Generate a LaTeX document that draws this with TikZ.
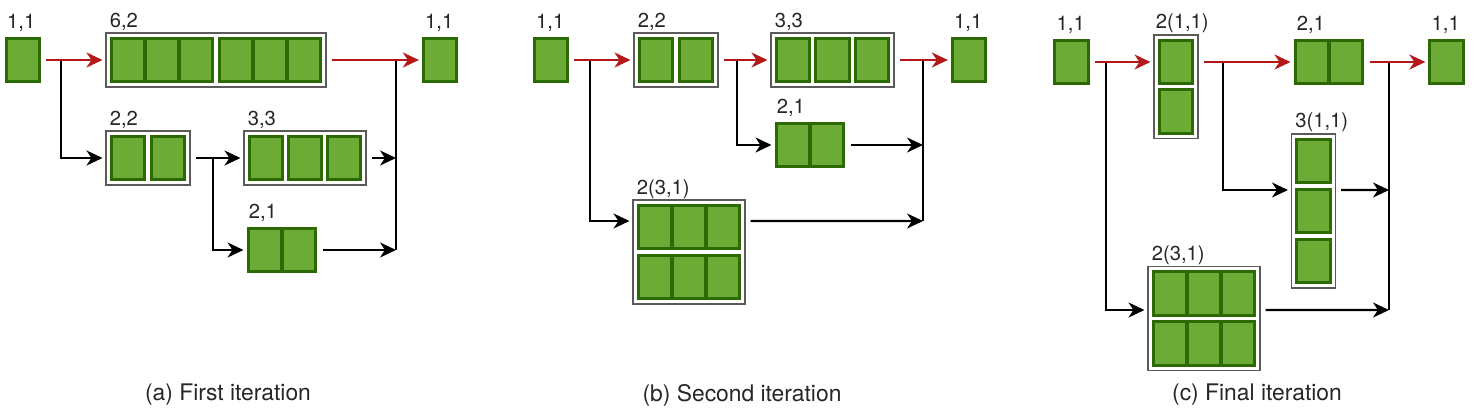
\documentclass[tikz,border=0pt]{standalone}
\usepackage{fontspec}
\setmainfont{TeX Gyre Heros}
\usetikzlibrary{arrows.meta, positioning, fit, calc}
\definecolor{CellGreen}{RGB}{108,172,54}
\definecolor{CellEdge}{RGB}{44,106,4}
\definecolor{FrameGray}{RGB}{90,90,90}
\definecolor{PathRed}{RGB}{180,24,24}

\begin{document}
\begin{tikzpicture}[x=0.02cm, y=-0.02cm,
		cell/.style={draw=CellEdge, line width=0.056cm, fill=CellGreen, minimum width=0.67cm, minimum height=0.87cm, inner sep=0pt},
		grp/.style={draw=FrameGray, line width=0.025cm, inner sep=0.075cm},
		lbl/.style={anchor=base west, inner sep=0pt, font=\fontsize{11.5}{13}\selectfont, text=black!85},
		subcap/.style={font=\fontsize{13}{15}\selectfont, text=black!85},
		wire/.style={line width=0.045cm},
		arr/.style={wire, -{Stealth[length=0.32cm, width=0.3cm, inset=0.1cm]}, shorten >=0.06cm},
		redarr/.style={arr, PathRed},
		src/.style={shorten <=0.1cm},
		tojoin/.style={shorten >=0pt}]
	\useasboundingbox (0,0) rectangle (1474,419);

	% (a) first iteration
	\node[cell] (ain) at (23,60) {};
	\foreach \x [count=\i] in {128,162,196,236,270,304}
		\node[cell] (a62c\i) at (\x,60) {};
	\node[grp, fit=(a62c1)(a62c6)] (a62) {};
	\node[cell] (aout) at (440,60) {};
	\foreach \x [count=\i] in {128,168}
		\node[cell] (a22c\i) at (\x,158) {};
	\node[grp, fit=(a22c1)(a22c2)] (a22) {};
	\foreach \x [count=\i] in {266,305,344}
		\node[cell] (a33c\i) at (\x,158) {};
	\node[grp, fit=(a33c1)(a33c3)] (a33) {};
	\foreach \x [count=\i] in {265,299}
		\node[cell] (a21c\i) at (\x,250) {};
	\node[fit=(a21c1)(a21c2), inner sep=0pt] (a21) {};

	\node[lbl] (ainl) at ([shift={(2,-8)}]ain.north west) {1,1};
	\node[lbl] (a62l) at ([shift={(4,-5)}]a62.north west) {6,2};
	\node[lbl] (aoutl) at ([shift={(3,-8)}]aout.north west) {1,1};
	\node[lbl] (a22l) at ([shift={(4,-5)}]a22.north west) {2,2};
	\node[lbl] (a33l) at ([shift={(4,-5)}]a33.north west) {3,3};
	\node[lbl] (a21l) at ([shift={(2,-8)}]a21.north west) {2,1};

	\coordinate (asplit) at (61,60);
	\coordinate (asplit2) at (213,158);
	\coordinate (ajtop) at (396,60);
	\coordinate (aj1) at (396,158);
	\coordinate (aj2) at (396,250);
	\draw[wire] (ajtop) -- (aj2);
	\draw[arr] (asplit) |- (a22);
	\draw[arr] (asplit2) |- (a21);
	\draw[arr, src] (a22) -- (a33);
	\draw[arr, src, tojoin] (a33) -- (aj1);
	\draw[arr, src, tojoin] (a21) -- (aj2);
	\draw[redarr, src] (ain) -- (a62);
	\draw[redarr, src] (a62) -- (aout);

	% (b) second iteration
	\node[cell] (bin) at (551,60) {};
	\foreach \x [count=\i] in {656,696}
		\node[cell] (b22c\i) at (\x,60) {};
	\node[grp, fit=(b22c1)(b22c2)] (b22) {};
	\foreach \x [count=\i] in {793,832.5,872}
		\node[cell] (b33c\i) at (\x,60) {};
	\node[grp, fit=(b33c1)(b33c3)] (b33) {};
	\node[cell] (bout) at (969,60) {};
	\foreach \x [count=\i] in {793,827}
		\node[cell] (b21c\i) at (\x,145) {};
	\node[fit=(b21c1)(b21c2), inner sep=0pt] (b21) {};
	\foreach \y [count=\j] in {227,277}
		\foreach \x [count=\i] in {655,689,723}
			\node[cell] (b231r\j c\i) at (\x,\y) {};
	\node[grp, fit=(b231r1c1)(b231r2c3)] (b231) {};

	\node[lbl] (binl) at ([shift={(3,-8)}]bin.north west) {1,1};
	\node[lbl] (b22l) at ([shift={(4,-5)}]b22.north west) {2,2};
	\node[lbl] (b33l) at ([shift={(4,-5)}]b33.north west) {3,3};
	\node[lbl] (boutl) at ([shift={(3,-8)}]bout.north west) {1,1};
	\node[lbl] (b21l) at ([shift={(2,-8)}]b21.north west) {2,1};
	\node[lbl] (b231l) at ([shift={(4,-5)}]b231.north west) {2(3,1)};

	\coordinate (bsplit) at (590,60);
	\coordinate (bsplit2) at (737,60);
	\coordinate (bjtop) at (923,60);
	\coordinate (bj1) at (923,145);
	\coordinate (bj2) at (923,221);
	\draw[wire] (bjtop) -- (bj2);
	\draw[arr] (bsplit) |- ([yshift=0.62cm]b231.west);
	\draw[arr] (bsplit2) |- (b21);
	\draw[arr, src, tojoin] (b21) -- (bj1);
	\draw[arr, src, tojoin] ([yshift=0.62cm]b231.east) -- (bj2);
	\draw[redarr, src] (bin) -- (b22);
	\draw[redarr, src] (b22) -- (b33);
	\draw[redarr, src] (b33) -- (bout);

	% (c) final iteration
	\node[cell] (cin) at (1071.5,62) {};
	\foreach \y [count=\i] in {62,111.5}
		\node[cell] (c211c\i) at (1176,\y) {};
	\node[grp, fit=(c211c1)(c211c2)] (c211) {};
	\foreach \x [count=\i] in {1312,1346}
		\node[cell] (c21c\i) at (\x,62) {};
	\node[fit=(c21c1)(c21c2), inner sep=0pt] (c21) {};
	\node[cell] (cout) at (1446.5,62) {};
	\foreach \y [count=\i] in {161,211,261}
		\node[cell] (c311c\i) at (1313.5,\y) {};
	\node[grp, fit=(c311c1)(c311c3)] (c311) {};
	\foreach \y [count=\j] in {293.5,343.5}
		\foreach \x [count=\i] in {1170,1204,1238}
			\node[cell] (c231r\j c\i) at (\x,\y) {};
	\node[grp, fit=(c231r1c1)(c231r2c3)] (c231) {};

	\node[lbl] (cinl) at ([shift={(3,-8)}]cin.north west) {1,1};
	\node[lbl] (c211l) at ([shift={(2,-6)}]c211.north west) {2(1,1)};
	\node[lbl] (c21l) at ([shift={(3,-8)}]c21.north west) {2,1};
	\node[lbl] (coutl) at ([shift={(3,-8)}]cout.north west) {1,1};
	\node[lbl] (c311l) at ([shift={(4,-6)}]c311.north west) {3(1,1)};
	\node[lbl] (c231l) at ([shift={(4,-5)}]c231.north west) {2(3,1)};

	\coordinate (csplit) at (1106,62);
	\coordinate (csplit2) at (1223,62);
	\coordinate (cjtop) at (1389,62);
	\coordinate (cj1) at (1389,190);
	\coordinate (cj2) at (1389,310);
	\draw[wire] (cjtop) -- (cj2);
	\draw[arr] (csplit) |- ([yshift=0.17cm]c231.west);
	\draw[arr] (csplit2) |- ([yshift=0.42cm]c311.west);
	\draw[arr, src, tojoin] ([yshift=0.42cm]c311.east) -- (cj1);
	\draw[arr, src, tojoin] ([yshift=0.17cm]c231.east) -- (cj2);
	\draw[redarr, src] (cin) -- (cin -| c211.west);
	\draw[redarr, src] (c211.east |- c21) -- (c21);
	\draw[redarr, src] (c21) -- (cout);

	% captions
	\node[subcap] (capa) at (228,395) {(a) First iteration};
	\node[subcap] (capb) at (742,395) {(b) Second iteration};
	\node[subcap] (capc) at (1257,395) {(c) Final iteration};
\end{tikzpicture}
\end{document}
